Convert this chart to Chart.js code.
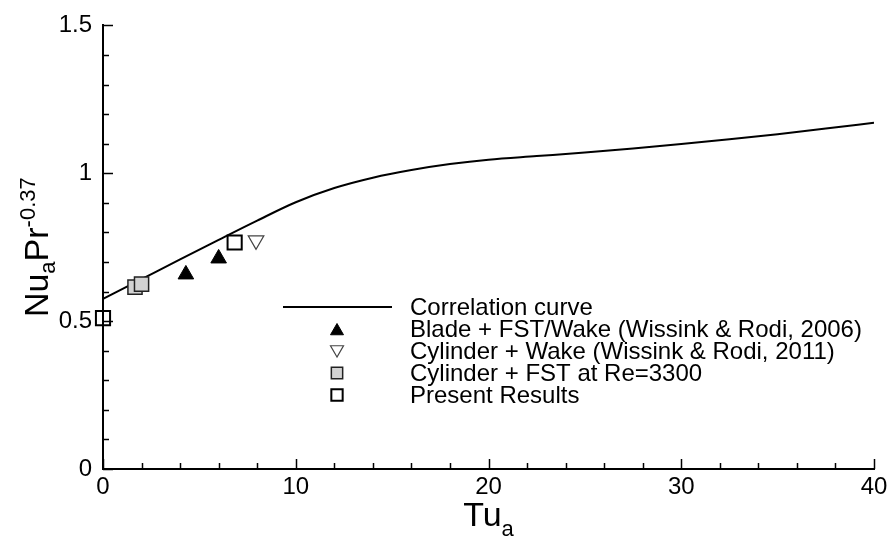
<!DOCTYPE html>
<html>
<head>
<meta charset="utf-8">
<script src="https://cdn.jsdelivr.net/npm/chart.js@4.4.1/dist/chart.umd.min.js"></script>
<style>
  html, body { margin: 0; padding: 0; background: #fff; }
  #wrap { width: 895px; height: 545px; position: relative; }
</style>
</head>
<body>
<div id="wrap"><canvas id="nuChart"></canvas></div>
<script>
// correlation curve Nu_a Pr^-0.37 vs Tu_a
let curveTu = [0, 2, 4, 6, 8, 10, 12, 14, 16, 18, 20, 22.5, 25, 27.5, 30, 32.5, 35, 37.5, 40];
let curveNu = [0.575, 0.642, 0.709, 0.775, 0.84, 0.902, 0.95, 0.985, 1.011, 1.031, 1.046, 1.058, 1.07, 1.084, 1.099, 1.115, 1.132, 1.151, 1.171];

// Blade + FST/Wake (Wissink & Rodi, 2006)
let bladeTu = [4.3, 6.0];
let bladeNu = [0.658, 0.712];

// Cylinder + Wake (Wissink & Rodi, 2011)
let cylWakeTu = [7.94];
let cylWakeNu = [0.773];

// Cylinder + FST at Re=3300
let cylFstTu = [1.66, 2.0];
let cylFstNu = [0.615, 0.625];

// Present Results
let presentTu = [0, 6.83];
let presentNu = [0.51, 0.766];

let legendLabels = [
    'Correlation curve',
    'Blade + FST/Wake (Wissink & Rodi, 2006)',
    'Cylinder + Wake (Wissink & Rodi, 2011)',
    'Cylinder + FST at Re=3300',
    'Present Results'
];

const FONT = "'Liberation Sans', Arial, Helvetica, sans-serif";

function toPoints(xs, ys) {
    return xs.map(function(x, i) { return {x: x, y: ys[i]}; });
}

// inward major + minor ticks on left and bottom axes
const tickPlugin = {
    id: 'inwardTicks',
    afterDatasetsDraw: function(chart) {
        let ctx = chart.ctx;
        let xs = chart.scales.x, ys = chart.scales.y;
        let area = chart.chartArea;
        ctx.save();
        ctx.strokeStyle = '#000';
        ctx.lineWidth = 1.5;
        for (let v = 0; v <= 40.001; v += 2) {
            let px = Math.round(xs.getPixelForValue(v)) + 0.5;
            let len = (Math.abs(v % 10) < 0.01) ? 10 : 6;
            ctx.beginPath();
            ctx.moveTo(px, area.bottom);
            ctx.lineTo(px, area.bottom - len);
            ctx.stroke();
        }
        for (let i = 0; i <= 15; i++) {
            let v = i / 10;
            let py = Math.round(ys.getPixelForValue(v)) + 0.5;
            let len = (i % 5 === 0) ? 10 : 6;
            ctx.beginPath();
            ctx.moveTo(area.left, py);
            ctx.lineTo(area.left + len, py);
            ctx.stroke();
        }
        ctx.restore();
    }
};

// draws text runs with sub/superscripts, starting at (0,0) baseline
function drawRuns(ctx, runs) {
    let x = 0;
    runs.forEach(function(r) {
        ctx.font = r.size + 'px ' + FONT;
        ctx.fillText(r.t, x, r.dy);
        x += ctx.measureText(r.t).width;
    });
}
function runsWidth(ctx, runs) {
    let w = 0;
    runs.forEach(function(r) {
        ctx.font = r.size + 'px ' + FONT;
        w += ctx.measureText(r.t).width;
    });
    return w;
}

const titlePlugin = {
    id: 'axisTitles',
    afterDraw: function(chart) {
        let ctx = chart.ctx;
        let area = chart.chartArea;
        ctx.save();
        ctx.fillStyle = '#000';
        ctx.textBaseline = 'alphabetic';
        ctx.textAlign = 'left';

        let xRuns = [{t: 'Tu', size: 34, dy: 0}, {t: 'a', size: 22, dy: 10}];
        let w = runsWidth(ctx, xRuns);
        ctx.save();
        ctx.translate((area.left + area.right) / 2 - w / 2, 526);
        drawRuns(ctx, xRuns);
        ctx.restore();

        let yRuns = [{t: 'Nu', size: 34, dy: 0}, {t: 'a', size: 22, dy: 7},
                     {t: 'Pr', size: 34, dy: 0}, {t: '-0.37', size: 22, dy: -13}];
        w = runsWidth(ctx, yRuns);
        ctx.save();
        ctx.translate(48, (area.top + area.bottom) / 2 + w / 2);
        ctx.rotate(-Math.PI / 2);
        drawRuns(ctx, yRuns);
        ctx.restore();
        ctx.restore();
    }
};

const legendPlugin = {
    id: 'insideLegend',
    afterDraw: function(chart) {
        let ctx = chart.ctx;
        let symX = 337, textX = 410, top = 307, step = 22;
        ctx.save();
        ctx.font = '24px ' + FONT;
        ctx.fillStyle = '#000';
        ctx.textBaseline = 'middle';
        ctx.textAlign = 'left';
        legendLabels.forEach(function(lbl, i) {
            ctx.fillText(lbl, textX, top + i * step + 1);
        });
        // line sample
        ctx.strokeStyle = '#000';
        ctx.lineWidth = 2;
        ctx.beginPath();
        ctx.moveTo(283, top);
        ctx.lineTo(392, top);
        ctx.stroke();
        let ds = chart.data.datasets;
        for (let i = 1; i < ds.length; i++) {
            let d = ds[i];
            let r = d.pointStyle === 'rect' ? 8 : 7.5;
            ctx.fillStyle = d.pointBackgroundColor;
            ctx.strokeStyle = d.pointBorderColor;
            ctx.lineWidth = d.pointBorderWidth;
            Chart.helpers.drawPoint(ctx, {
                pointStyle: d.pointStyle,
                rotation: d.pointRotation || 0,
                radius: r,
                borderWidth: d.pointBorderWidth
            }, symX, top + i * step + (d.pointStyle === 'triangle' ? (d.pointRotation ? -1.5 : 2) : 0));
        }
        ctx.restore();
    }
};

const ctx = document.getElementById('nuChart');
const nuChart = new Chart(ctx, {
    type: 'scatter',
    data: {
        datasets: [{
            label: legendLabels[0],
            data: toPoints(curveTu, curveNu),
            showLine: true,
            borderColor: '#000',
            borderWidth: 2,
            pointRadius: 0,
            cubicInterpolationMode: 'monotone',
            order: 10
        }, {
            label: legendLabels[1],
            data: toPoints(bladeTu, bladeNu),
            pointStyle: 'triangle',
            pointRadius: 9,
            pointBackgroundColor: '#000',
            pointBorderColor: '#000',
            pointBorderWidth: 1,
            order: 4
        }, {
            label: legendLabels[2],
            data: toPoints(cylWakeTu, cylWakeNu),
            pointStyle: 'triangle',
            pointRotation: 180,
            pointRadius: 9,
            pointBackgroundColor: '#fff',
            pointBorderColor: '#444',
            pointBorderWidth: 1.2,
            order: 3
        }, {
            label: legendLabels[3],
            data: toPoints(cylFstTu, cylFstNu),
            pointStyle: 'rect',
            pointRadius: 10,
            pointBackgroundColor: '#d3d3d3',
            pointBorderColor: '#222',
            pointBorderWidth: 1.5,
            order: 2
        }, {
            label: legendLabels[4],
            data: toPoints(presentTu, presentNu),
            pointStyle: 'rect',
            pointRadius: 10,
            pointBackgroundColor: 'rgba(255,255,255,0)',
            pointBorderColor: '#000',
            pointBorderWidth: 2,
            clip: false,
            order: 1
        }]
    },
    options: {
        responsive: true,
        maintainAspectRatio: false,
        animation: false,
        layout: { padding: { top: 22, right: 21, left: 0, bottom: 0 } },
        plugins: {
            legend: { display: false },
            tooltip: { enabled: false }
        },
        scales: {
            x: {
                type: 'linear',
                min: 0,
                max: 40,
                afterFit: function(s) { s.height = 76; },
                border: { display: true, color: '#000', width: 2 },
                grid: { display: false, drawTicks: false },
                ticks: {
                    stepSize: 10,
                    padding: 4,
                    color: '#000',
                    font: { family: FONT, size: 24 }
                }
            },
            y: {
                type: 'linear',
                min: 0,
                max: 1.5,
                afterFit: function(s) { s.width = 103; },
                border: { display: true, color: '#000', width: 2 },
                grid: { display: false, drawTicks: false },
                ticks: {
                    stepSize: 0.5,
                    padding: 11,
                    color: '#000',
                    font: { family: FONT, size: 24 },
                    callback: function(v) { return String(Math.round(v * 10) / 10); }
                }
            }
        }
    },
    plugins: [tickPlugin, titlePlugin, legendPlugin]
});
</script>
</body>
</html>
